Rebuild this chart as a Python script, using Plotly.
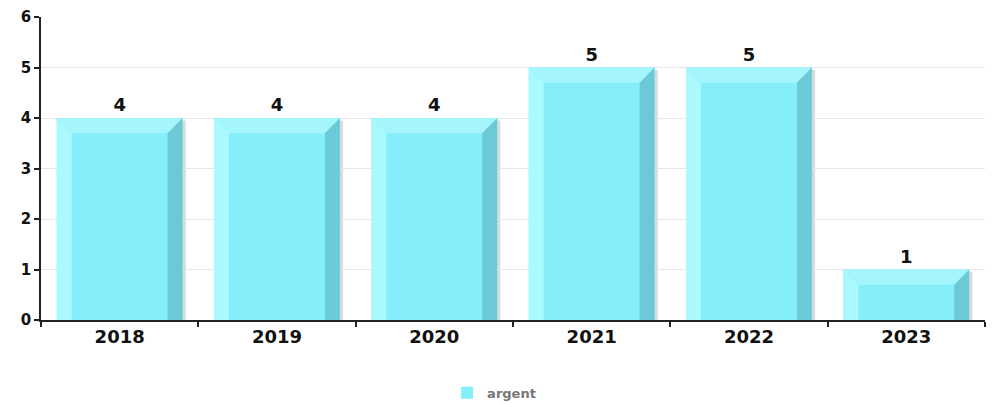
import plotly.graph_objects as go

years = ["2018", "2019", "2020", "2021", "2022", "2023"]
argent = [4, 4, 4, 5, 5, 1]
series_name = "argent"
y_ticks = [0, 1, 2, 3, 4, 5, 6]

BAR_W = 0.8
BEV_X = 0.095   # bevel width in category units
BEV_Y = 0.30    # bevel height in value units

fig = go.Figure()
fig.add_trace(go.Bar(
    x=list(range(len(years))), y=argent, name=series_name,
    width=BAR_W, marker=dict(color="#84EEFB", line=dict(width=0)),
    text=[str(v) for v in argent], textposition="outside", cliponaxis=False,
    textfont=dict(family="DejaVu Sans", size=18, color="#111111", weight="bold"),
))

shapes = []
for i, v in enumerate(argent):
    x0, x1 = i - BAR_W / 2, i + BAR_W / 2
    shapes.append(dict(type="rect", xref="x", yref="y", x0=x1, x1=x1 + 0.02, y0=0, y1=v - 0.05,
                       fillcolor="rgba(150,150,150,0.35)", line=dict(width=0), layer="below"))
    shapes.append(dict(type="path", xref="x", yref="y",
                       path=f"M {x0},0 L {x0},{v} L {x0+BEV_X},{v-BEV_Y} L {x0+BEV_X},0 Z",
                       fillcolor="#A9F9FE", line=dict(width=0), layer="above"))
    shapes.append(dict(type="path", xref="x", yref="y",
                       path=f"M {x0},{v} L {x1},{v} L {x1-BEV_X},{v-BEV_Y} L {x0+BEV_X},{v-BEV_Y} Z",
                       fillcolor="#A4F6FC", line=dict(width=0), layer="above"))
    shapes.append(dict(type="path", xref="x", yref="y",
                       path=f"M {x1},0 L {x1},{v} L {x1-BEV_X},{v-BEV_Y} L {x1-BEV_X},0 Z",
                       fillcolor="#6CCAD6", line=dict(width=0), layer="above"))

fig.update_layout(
    width=987, height=396,
    margin=dict(l=33, r=10, t=9, b=84, autoexpand=False),
    plot_bgcolor="white", paper_bgcolor="white",
    shapes=shapes,
    showlegend=True,
    legend=dict(orientation="h", x=0.48, xanchor="center", y=-0.24, yanchor="middle",
                font=dict(family="DejaVu Sans", size=13, color="#777777", weight="bold")),
    font=dict(family="DejaVu Sans"),
    bargap=0.2,
)
fig.update_xaxes(
    tickmode="array", tickvals=list(range(len(years))), ticktext=years,
    range=[-0.5, len(years) - 0.5], automargin=False,
    showline=True, linecolor="#222222", linewidth=1.5,
    ticks="", showgrid=False,
    tickfont=dict(family="DejaVu Sans", size=18, color="#111111", weight="bold"),
)
fig.update_xaxes(minor=dict(tickmode="array", tickvals=[i + 0.5 for i in range(-1, len(years))],
                            ticks="outside", ticklen=5, tickcolor="#222222", tickwidth=1.5, showgrid=False))
fig.update_yaxes(
    range=[0, 6], tickvals=y_ticks, automargin=False, ticklabeloverflow="allow",
    showline=True, linecolor="#222222", linewidth=1.5,
    ticks="outside", ticklen=5, tickcolor="#222222", tickwidth=1.5,
    showgrid=True, gridcolor="#E6E6E6", gridwidth=1,
    zeroline=False,
    tickfont=dict(family="DejaVu Sans", size=15, color="#111111", weight="bold"),
)

fig.write_html("out.html")
